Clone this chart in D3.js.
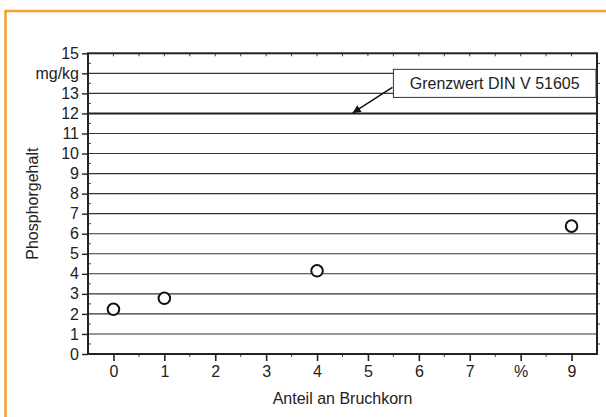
<!DOCTYPE html>
<html><head><meta charset="utf-8">
<script src="https://cdn.jsdelivr.net/npm/d3@7"></script>
<style>body{margin:0;background:#fff}svg{display:block}text{font-family:"Liberation Sans",Arial,sans-serif;fill:#222}</style>
</head><body>
<svg id="c" width="606" height="417"></svg>
<script>
const xValues = [0, 1, 4, 9];
const yValues = [2.23, 2.78, 4.15, 6.38];
const xTickValues = [0,1,2,3,4,5,6,7,8,9];
const xTickLabels = ["0","1","2","3","4","5","6","7","%","9"];
const yTickValues = [0,1,2,3,4,5,6,7,8,9,10,11,12,13,14,15];
const yTickLabels = ["0","1","2","3","4","5","6","7","8","9","10","11","12","13","mg/kg","15"];
const limitValue = 12;
const limitLabel = "Grenzwert DIN V 51605";
const xTitle = "Anteil an Bruchkorn";
const yTitle = "Phosphorgehalt";

const FONT = '"Liberation Sans",Arial,sans-serif';
const FS = 16;
const svg = d3.select("#c");
const L = 88, R = 597, T = 53.3, B = 354;
const x = d3.scaleLinear().domain([-0.5, 9.5]).range([L, R]);
const y = d3.scaleLinear().domain([0, 15]).range([B, T]);

// orange frame (left + top)
svg.append("path").attr("d", `M5.5,417 L5.5,11 L606,11`).attr("fill","none").attr("stroke","#f7a032").attr("stroke-width",2.5);

// gridlines
svg.append("g").selectAll("line").data(yTickValues.filter(v => v > 0 && v < 15 && v !== limitValue))
  .join("line").attr("x1", L).attr("x2", R).attr("y1", d => y(d)).attr("y2", d => y(d))
  .attr("stroke", "#333").attr("stroke-width", 1.1);
// limit line
svg.append("line").attr("x1", L).attr("x2", R).attr("y1", y(limitValue)).attr("y2", y(limitValue))
  .attr("stroke", "#222").attr("stroke-width", 2);

const halfX = d3.range(-0.5, 9.51, 0.5);
const halfY = d3.range(0.5, 15, 1);

// bottom axis
const bx = svg.append("g").attr("transform", `translate(0,${B})`)
  .call(d3.axisBottom(x).tickValues(xTickValues).tickFormat((d,i) => xTickLabels[i]).tickSize(7).tickPadding(5));
bx.select(".domain").remove();
bx.selectAll("line").attr("stroke","#222").attr("stroke-width",1.6);
bx.selectAll("text").attr("font-size", FS).attr("fill","#222").attr("font-family", FONT);
svg.append("g").selectAll("line").data(xTickValues.map(v => v + 0.5).filter(v => v < 9.5)).join("line")
  .attr("x1", d => x(d)).attr("x2", d => x(d)).attr("y1", B).attr("y2", B + 3).attr("stroke","#444").attr("stroke-width",1);
// top minor ticks (inward)
svg.append("g").selectAll("line").data(halfX.filter(v => v > -0.5 && v < 9.5)).join("line")
  .attr("x1", d => x(d)).attr("x2", d => x(d)).attr("y1", T).attr("y2", T + 3).attr("stroke","#444").attr("stroke-width",1);

// left axis
const ly = svg.append("g").attr("transform", `translate(${L},0)`)
  .call(d3.axisLeft(y).tickValues(yTickValues).tickFormat((d,i) => yTickLabels[i]).tickSize(6).tickPadding(3));
ly.select(".domain").remove();
ly.selectAll("line").attr("stroke","#222").attr("stroke-width",1.4);
ly.selectAll("text").attr("font-size", FS).attr("fill","#222").attr("font-family", FONT);
svg.append("g").selectAll("line").data(halfY).join("line")
  .attr("x1", L).attr("x2", L + 3).attr("y1", d => y(d)).attr("y2", d => y(d)).attr("stroke","#444").attr("stroke-width",1);
// right minor ticks (outward)
svg.append("g").selectAll("line").data(halfY).join("line")
  .attr("x1", R).attr("x2", R + 3).attr("y1", d => y(d)).attr("y2", d => y(d)).attr("stroke","#444").attr("stroke-width",1);

// frame
svg.append("rect").attr("x", L).attr("y", T).attr("width", R - L).attr("height", B - T)
  .attr("fill","none").attr("stroke","#222").attr("stroke-width",2);

// points
svg.append("g").selectAll("circle").data(xValues.map((d,i) => [d, yValues[i]])).join("circle")
  .attr("cx", d => x(d[0])).attr("cy", d => y(d[1])).attr("r", 5.8)
  .attr("fill","#fff").attr("stroke","#111").attr("stroke-width",2);

// annotation
const defs = svg.append("defs");
defs.append("marker").attr("id","ah").attr("viewBox","0 0 10 10").attr("refX",10).attr("refY",5)
  .attr("markerWidth",13).attr("markerHeight",8).attr("markerUnits","userSpaceOnUse").attr("orient","auto")
  .append("path").attr("d","M0,0 L10,5 L0,10 Z").attr("fill","#111");
const boxX0 = x(5.5), boxX1 = R - 1, boxY0 = y(14.2), boxY1 = y(12.8);
svg.append("rect").attr("x", boxX0).attr("y", boxY0).attr("width", boxX1 - boxX0).attr("height", boxY1 - boxY0)
  .attr("fill","#fff").attr("stroke","#333").attr("stroke-width",1);
svg.append("text").attr("x", (boxX0 + boxX1) / 2).attr("y", (boxY0 + boxY1) / 2 + 5.5)
  .attr("text-anchor","middle").attr("font-size",FS).text(limitLabel);
svg.append("line").attr("x1", boxX0 - 1).attr("y1", y(13.3)).attr("x2", x(4.7)).attr("y2", y(limitValue) - 0.5)
  .attr("stroke","#111").attr("stroke-width",1.5).attr("marker-end","url(#ah)");

// titles
svg.append("text").attr("x", (L + R) / 2).attr("y", 404).attr("text-anchor","middle").attr("font-size",FS).text(xTitle);
svg.append("text").attr("transform", `translate(38,${(T + B) / 2}) rotate(-90)`).attr("text-anchor","middle").attr("font-size",FS).text(yTitle);
</script>
</body></html>
